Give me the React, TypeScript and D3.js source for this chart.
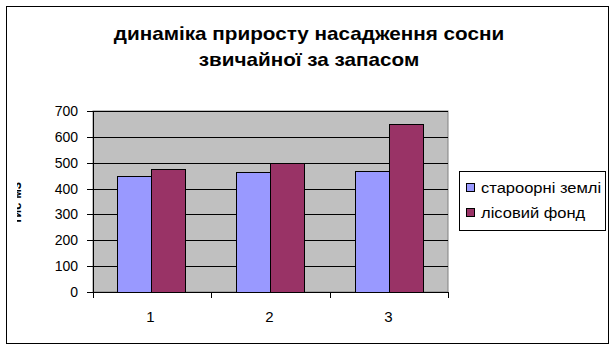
import React from "react";
import * as d3 from "d3";

const categories = ["1", "2", "3"];
const seriesNames = ["староорні землі", "лісовий фонд"];
const seriesOld = [447, 463, 468];
const seriesForest = [477, 500, 650];
const yTicks = [0, 100, 200, 300, 400, 500, 600, 700];
const titleLines = ["динаміка приросту насадження сосни", "звичайної за запасом"];
const yTitle = "тис м3";
const colors = ["#9999FF", "#993366"];

export default function App() {
  const W = 616, H = 351;
  const left = 93, right = 448, top = 111, bottom = 292;
  const x = d3.scaleBand<string>().domain(categories).range([left - 2, right]).paddingInner(0.4286).paddingOuter(0.2143);
  const y = d3.scaleLinear().domain([0, 700]).range([bottom, top]);
  const inner = d3.scaleBand<number>().domain([0, 1]).range([0, x.bandwidth()]);
  const series = [seriesOld, seriesForest];
  const catEdges = d3.range(categories.length + 1).map((i) => left + (i * (right - left)) / categories.length);
  const font = "Liberation Sans, Arial, sans-serif";
  return (
    <svg width={W} height={H} style={{ position: "absolute", left: 0, top: 0 }} fontFamily={font}>
      <defs>
        <clipPath id="ytc">
          <rect x={17} y={0} width={20} height={H} />
        </clipPath>
      </defs>
      <rect x={0} y={0} width={W} height={H} fill="#fff" />
      <rect x={6.5} y={6.5} width={602} height={337} fill="#fff" stroke="#000" strokeWidth={1} />
      {titleLines.map((t, i) => (
        <text key={i} transform={`translate(309,${40 + i * 26}) scale(1.15,1)`} textAnchor="middle" fontWeight="bold" fontSize={18}>
          {t}
        </text>
      ))}
      <rect x={left} y={top} width={right - left} height={bottom - top} fill="#C0C0C0" stroke="#808080" />
      {yTicks.slice(1).map((v) => (
        <line key={v} x1={left} x2={right} y1={Math.round(y(v)) + 0.5} y2={Math.round(y(v)) + 0.5} stroke="#000" />
      ))}
      {series.map((vals, s) =>
        vals.map((v, i) => (
          <rect
            key={s + "-" + i}
            x={Math.round((x(categories[i]) as number) + (inner(s) as number)) + 0.5}
            y={Math.round(y(v)) + 0.5}
            width={Math.round(inner.bandwidth())}
            height={Math.round(y(0) - y(v))}
            fill={colors[s]}
            stroke="#000"
          />
        ))
      )}
      <line x1={left + 0.5} x2={left + 0.5} y1={top} y2={bottom} stroke="#000" />
      <line x1={left} x2={right} y1={bottom + 0.5} y2={bottom + 0.5} stroke="#000" />
      {yTicks.map((v) => (
        <g key={v}>
          <line x1={87} x2={left} y1={Math.round(y(v)) + 0.5} y2={Math.round(y(v)) + 0.5} stroke="#000" />
          <text x={78} y={y(v) + 5} textAnchor="end" fontSize={14}>
            {v}
          </text>
        </g>
      ))}
      {catEdges.map((e, i) => (
        <line key={i} x1={Math.round(e) + 0.5} x2={Math.round(e) + 0.5} y1={bottom} y2={bottom + 6} stroke="#000" />
      ))}
      {categories.map((c) => (
        <text key={c} x={(x(c) as number) + x.bandwidth() / 2} y={322} textAnchor="middle" fontSize={15}>
          {c}
        </text>
      ))}
      <g clipPath="url(#ytc)">
        <text transform="translate(21,203) rotate(-90)" textAnchor="middle" fontWeight="bold" fontSize={13}>
          {yTitle}
        </text>
      </g>
      <rect x={459.5} y={171.5} width={146} height={59} fill="#fff" stroke="#000" />
      {seriesNames.map((n, i) => (
        <g key={n}>
          <rect x={466.5} y={183.5 + i * 25} width={8} height={8} fill={colors[i]} stroke="#000" />
          <text transform={`translate(481,${193 + i * 25}) scale(1.14,1)`} fontSize={14.5}>
            {n}
          </text>
        </g>
      ))}
    </svg>
  );
}
